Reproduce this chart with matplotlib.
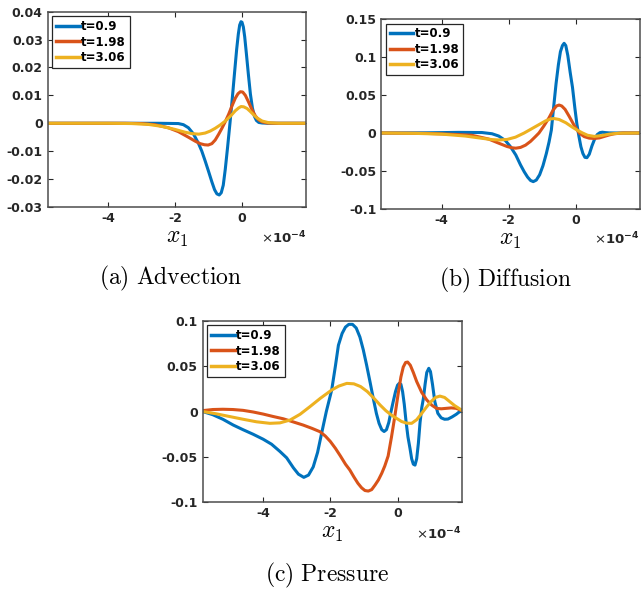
import numpy as np
import matplotlib
matplotlib.use("Agg")
import matplotlib.pyplot as plt
from matplotlib.ticker import FuncFormatter

# x1 positions are stored in units of 1e-4 (the axis carries the x10^-4 factor)
labels = ["t=0.9", "t=1.98", "t=3.06"]
colors = ["#0072BD", "#D95319", "#EDB120"]

# ---------------- (a) Advection ----------------
adv_x_t1 = [-5.8, -2.5, -1.9, -1.75, -1.6, -1.45, -1.3, -1.2, -1.1, -1.0, -0.9, -0.82, -0.75,
            -0.68, -0.62, -0.56, -0.5, -0.43, -0.36, -0.29, -0.22, -0.16, -0.11, -0.07,
            -0.03, 0.0, 0.04, 0.08, 0.13, 0.19, 0.25, 0.31, 0.37, 0.43, 0.5, 0.6, 0.8, 1.92]
adv_y_t1 = [0, 0, -0.0001, -0.0005, -0.0016, -0.0038, -0.0072, -0.0100, -0.0135, -0.0172,
            -0.0210, -0.0238, -0.0253, -0.0257, -0.0249, -0.0222, -0.0165, -0.0085, 0.0000,
            0.0090, 0.0185, 0.0265, 0.0320, 0.0352, 0.0364, 0.0362, 0.0345, 0.0310, 0.0250,
            0.0175, 0.0105, 0.0055, 0.0025, 0.0010, 0.0003, 0.0001, 0, 0]
adv_x_t2 = [-5.8, -3.5, -3.0, -2.6, -2.2, -1.9, -1.6, -1.4, -1.25, -1.12, -1.01, -0.9, -0.8,
            -0.7, -0.6, -0.5, -0.4, -0.3, -0.2, -0.12, -0.05, 0.02, 0.1, 0.2, 0.3, 0.4, 0.5,
            0.6, 0.75, 1.0, 1.92]
adv_y_t2 = [0, 0, -0.0001, -0.0005, -0.0016, -0.0030, -0.0050, -0.0064, -0.0073, -0.0077,
            -0.0078, -0.0073, -0.0060, -0.0040, -0.0018, 0.0006, 0.0032, 0.0062, 0.0090,
            0.0106, 0.0113, 0.0112, 0.0100, 0.0075, 0.0048, 0.0026, 0.0012, 0.0005, 0.0001,
            0, 0]
adv_x_t3 = [-5.8, -4.0, -3.3, -2.8, -2.4, -2.0, -1.7, -1.5, -1.29, -1.1, -0.95, -0.8, -0.65,
            -0.5, -0.35, -0.2, -0.1, -0.03, 0.05, 0.15, 0.25, 0.35, 0.45, 0.6, 0.8, 1.1, 1.92]
adv_y_t3 = [0, 0, -0.0001, -0.0004, -0.0011, -0.0022, -0.0032, -0.0037, -0.0039, -0.0035,
            -0.0028, -0.0018, -0.0006, 0.0008, 0.0025, 0.0045, 0.0055, 0.0060, 0.0059,
            0.0053, 0.0042, 0.0030, 0.0019, 0.0008, 0.0002, 0, 0]

# ---------------- (b) Diffusion ----------------
dif_x_t1 = [-5.8, -4.5, -3.5, -2.8, -2.5, -2.3, -2.1, -1.95, -1.79, -1.65, -1.54, -1.44,
            -1.35, -1.27, -1.18, -1.08, -0.98, -0.88, -0.8, -0.73, -0.66, -0.59, -0.52,
            -0.46, -0.4, -0.35, -0.3, -0.24, -0.17, -0.1, -0.03, 0.03, 0.09, 0.15, 0.21,
            0.27, 0.33, 0.4, 0.48, 0.56, 0.64, 0.72, 0.79, 0.88, 1.0, 1.2, 1.92]
dif_y_t1 = [0, 0.0002, 0.0008, 0.0006, -0.001, -0.004, -0.010, -0.018, -0.029, -0.042,
            -0.051, -0.058, -0.0625, -0.064, -0.062, -0.055, -0.043, -0.027, -0.012, 0.004,
            0.035, 0.065, 0.090, 0.107, 0.115, 0.118, 0.115, 0.102, 0.080, 0.060, 0.033,
            0.012, -0.004, -0.018, -0.027, -0.032, -0.0325, -0.028, -0.017, -0.008, -0.002,
            0.0005, 0.001, 0.0005, 0.0001, 0, 0]
dif_x_t2 = [-5.8, -4.5, -3.8, -3.1, -2.6, -2.29, -2.05, -1.9, -1.79, -1.65, -1.5, -1.35,
            -1.2, -1.1, -0.95, -0.8, -0.68, -0.58, -0.5, -0.42, -0.32, -0.2, -0.05, 0.1,
            0.25, 0.4, 0.55, 0.7, 0.85, 1.0, 1.15, 1.4, 1.92]
dif_y_t2 = [0, -0.0005, -0.0015, -0.003, -0.008, -0.0136, -0.0178, -0.0195, -0.0200,
            -0.0190, -0.0160, -0.0110, -0.0045, 0.0, 0.0095, 0.0200, 0.0300, 0.0355, 0.0368,
            0.0355, 0.0310, 0.0220, 0.0100, 0.0, -0.0048, -0.0068, -0.0072, -0.0065,
            -0.0045, -0.0025, -0.001, 0, 0]
dif_x_t3 = [-5.8, -4.8, -4.0, -3.3, -2.8, -2.5, -2.29, -2.05, -1.8, -1.54, -1.3, -1.1, -0.9,
            -0.75, -0.65, -0.5, -0.3, -0.1, 0.05, 0.2, 0.35, 0.55, 0.75, 1.0, 1.3, 1.92]
dif_y_t3 = [0, -0.0005, -0.0015, -0.004, -0.0070, -0.0087, -0.0092, -0.0085, -0.0055, 0.0,
            0.0060, 0.0110, 0.0160, 0.0185, 0.0190, 0.0178, 0.0135, 0.0075, 0.0035, 0.0,
            -0.003, -0.0045, -0.0035, -0.0015, -0.0003, 0]

# ---------------- (c) Pressure ----------------
pre_x_t1 = [-5.8, -5.5, -5.2, -4.89, -4.6, -4.3, -4.0, -3.75, -3.5, -3.3, -3.1, -2.95, -2.79,
            -2.65, -2.51, -2.38, -2.26, -2.12, -1.96, -1.85, -1.76, -1.65, -1.55, -1.45,
            -1.34, -1.23, -1.12, -1.02, -0.92, -0.82, -0.72, -0.63, -0.55, -0.47, -0.4,
            -0.33, -0.26, -0.2, -0.13, -0.06, 0.0, 0.05, 0.1, 0.15, 0.2, 0.25, 0.31, 0.37,
            0.42, 0.47, 0.52, 0.57, 0.62, 0.67, 0.72, 0.77, 0.82, 0.87, 0.93, 0.98, 1.04,
            1.11, 1.2, 1.3, 1.4, 1.5, 1.62, 1.75, 1.91]
pre_y_t1 = [0, -0.0035, -0.0085, -0.0149, -0.020, -0.025, -0.0305, -0.036, -0.044, -0.051,
            -0.062, -0.069, -0.0725, -0.070, -0.061, -0.045, -0.024, 0.000, 0.0237, 0.050,
            0.073, 0.086, 0.093, 0.096, 0.096, 0.092, 0.082, 0.068, 0.051, 0.0328, 0.014,
            -0.002, -0.013, -0.020, -0.022, -0.020, -0.012, -0.001, 0.0108, 0.022, 0.029,
            0.031, 0.030, 0.022, 0.008, -0.010, -0.028, -0.0405, -0.052, -0.058, -0.059,
            -0.052, -0.035, -0.012, 0.004, 0.0145, 0.030, 0.043, 0.0476, 0.044, 0.030,
            0.0108, -0.002, -0.007, -0.0085, -0.0083, -0.006, -0.003, 0.0017]
pre_x_t2 = [-5.8, -5.5, -5.2, -4.9, -4.6, -4.3, -4.0, -3.7, -3.4, -3.1, -2.81, -2.55, -2.31,
            -2.15, -2.0, -1.85, -1.7, -1.55, -1.42, -1.3, -1.18, -1.07, -0.97, -0.87, -0.77,
            -0.67, -0.57, -0.47, -0.38, -0.28, -0.18, -0.08, 0.02, 0.1, 0.17, 0.24, 0.3,
            0.38, 0.47, 0.57, 0.72, 0.87, 1.02, 1.16, 1.3, 1.45, 1.6, 1.75, 1.91]
pre_y_t2 = [0.001, 0.0022, 0.0025, 0.0022, 0.0013, -0.0005, -0.0028, -0.0055, -0.008,
            -0.0115, -0.0149, -0.0185, -0.0222, -0.027, -0.033, -0.0405, -0.049, -0.058,
            -0.0644, -0.072, -0.079, -0.084, -0.087, -0.0876, -0.086, -0.081, -0.0754,
            -0.068, -0.060, -0.049, -0.028, -0.005, 0.020, 0.038, 0.049, 0.054, 0.0545,
            0.051, 0.043, 0.033, 0.021, 0.0127, 0.007, 0.0035, 0.003, 0.0035, 0.004, 0.0035,
            0.001]
pre_x_t3 = [-5.8, -5.4, -5.0, -4.6, -4.2, -3.8, -3.5, -3.2, -2.9, -2.61, -2.3, -1.96, -1.75,
            -1.51, -1.3, -1.1, -0.9, -0.7, -0.52, -0.35, -0.18, -0.03, 0.12, 0.27, 0.42,
            0.57, 0.72, 0.87, 1.0, 1.13, 1.26, 1.4, 1.55, 1.7, 1.91]
pre_y_t3 = [0, -0.0025, -0.0055, -0.0085, -0.0113, -0.013, -0.0125, -0.0094, -0.003, 0.0053,
            0.0145, 0.0237, 0.028, 0.031, 0.0305, 0.0275, 0.022, 0.0145, 0.0072, 0.001,
            -0.004, -0.0075, -0.011, -0.0128, -0.013, -0.009, -0.002, 0.0053, 0.011, 0.0155,
            0.017, 0.0155, 0.011, 0.0065, 0.0015]

x_ticks = [-4, -2, 0]
adv_yticks = [-0.03, -0.02, -0.01, 0, 0.01, 0.02, 0.03, 0.04]
dif_yticks = [-0.1, -0.05, 0, 0.05, 0.1, 0.15]
pre_yticks = [-0.1, -0.05, 0, 0.05, 0.1]

plt.rcParams["axes.unicode_minus"] = False
plt.rcParams["font.family"] = "DejaVu Sans"

AX_COLOR = "#262626"


def draw_panel(ax, curves, yticks, caption, cap_xy, mult_y):
    for (x, y), c, lab in zip(curves, colors, labels):
        ax.plot(x, y, color=c, lw=2.2, label=lab, solid_joinstyle="round")
    ax.set_xlim(-5.8, 1.91)
    ax.set_ylim(yticks[0], yticks[-1])
    ax.set_xticks(x_ticks)
    ax.set_yticks(yticks)
    ax.yaxis.set_major_formatter(FuncFormatter(lambda v, p: "%g" % v))
    ax.tick_params(direction="in", top=True, right=True, length=3.5, width=0.8,
                   color=AX_COLOR, labelcolor=AX_COLOR, labelsize=9, pad=3.5)
    for lbl in ax.get_xticklabels() + ax.get_yticklabels():
        lbl.set_fontweight("bold")
    for sp in ax.spines.values():
        sp.set_color("#4d4d4d")
        sp.set_linewidth(1.1)
    ax.set_xlabel(r"$x_1$", fontsize=17, math_fontfamily="cm", labelpad=0)
    ax.text(1.0, mult_y, r"$\times$" + r"$\mathbf{10^{-4}}$", transform=ax.transAxes,
            ha="right", va="center", fontsize=9.5, color=AX_COLOR)
    leg = ax.legend(loc="upper left", prop={"weight": "bold", "size": 8.5},
                    handlelength=2.0, handletextpad=0.15, borderpad=0.3,
                    labelspacing=0.22, borderaxespad=0.4, fancybox=False,
                    framealpha=1.0, edgecolor=AX_COLOR)
    leg.get_frame().set_linewidth(0.9)
    for line in leg.get_lines():
        line.set_linewidth(2.5)
    fig.text(cap_xy[0], cap_xy[1], r"$\mathrm{" + caption + "}$", ha="center",
             va="center", fontsize=17, math_fontfamily="cm")


fig = plt.figure(figsize=(6.41, 5.90), dpi=100)

ax_a = fig.add_axes([0.0744, 0.6492, 0.4030, 0.3310])
draw_panel(ax_a, [(adv_x_t1, adv_y_t1), (adv_x_t2, adv_y_t2), (adv_x_t3, adv_y_t3)],
           adv_yticks, r"(a)\ Advection", (0.2668, 0.5288), -0.16)

ax_b = fig.add_axes([0.5949, 0.6458, 0.4034, 0.3220])
draw_panel(ax_b, [(dif_x_t1, dif_y_t1), (dif_x_t2, dif_y_t2), (dif_x_t3, dif_y_t3)],
           dif_yticks, r"(b)\ Diffusion", (0.7878, 0.5254), -0.158)

ax_c = fig.add_axes([0.3162, 0.1486, 0.4041, 0.3078])
draw_panel(ax_c, [(pre_x_t1, pre_y_t1), (pre_x_t2, pre_y_t2), (pre_x_t3, pre_y_t3)],
           pre_yticks, r"(c)\ Pressure", (0.5109, 0.024), -0.173)

fig.savefig("out.png", dpi=100)
